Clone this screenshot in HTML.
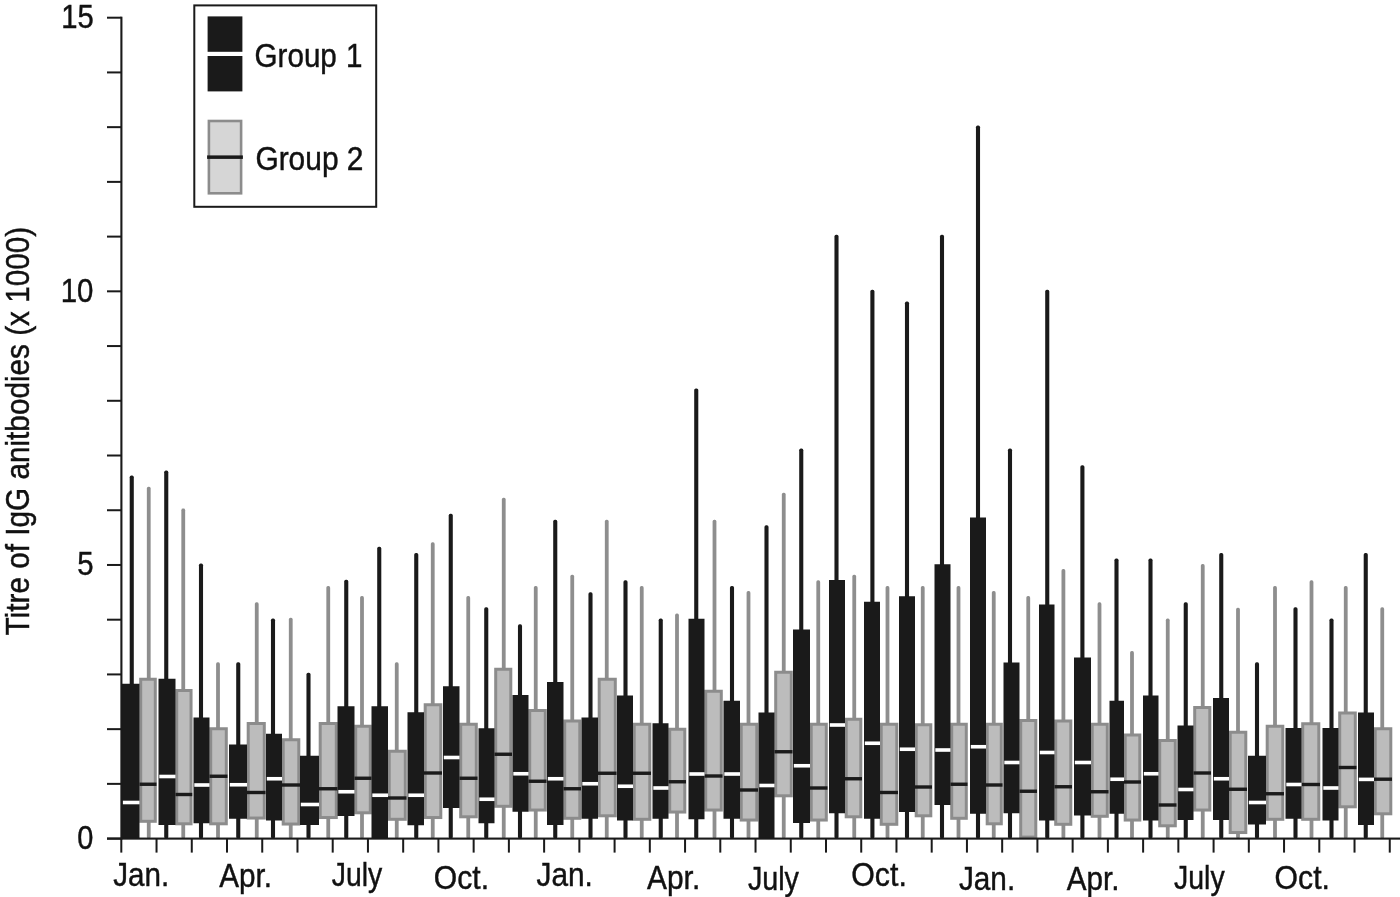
<!DOCTYPE html><html><head><meta charset="utf-8"><title>Titre of IgG antibodies</title>
<style>html,body{margin:0;padding:0;background:#fff}svg{display:block}text{font-family:"Liberation Sans",Arial,Helvetica,sans-serif;font-size:33.5px;fill:#111;stroke:#111;stroke-width:0.45px}</style></head><body>
<svg width="1400" height="897" viewBox="0 0 1400 897">
<rect width="1400" height="897" fill="#fff"/>
<g id="chart">
<g id="whiskers">
<rect x="146.85" y="486.80" width="3.8" height="351.80" rx="1.6" fill="#8e8e8e"/>
<rect x="181.35" y="508.55" width="3.8" height="330.05" rx="1.6" fill="#8e8e8e"/>
<rect x="216.10" y="662.30" width="3.8" height="176.30" rx="1.6" fill="#8e8e8e"/>
<rect x="254.85" y="602.30" width="3.8" height="236.30" rx="1.6" fill="#8e8e8e"/>
<rect x="288.85" y="617.80" width="3.8" height="220.80" rx="1.6" fill="#8e8e8e"/>
<rect x="326.35" y="586.05" width="3.8" height="252.55" rx="1.6" fill="#8e8e8e"/>
<rect x="360.10" y="596.05" width="3.8" height="242.55" rx="1.6" fill="#8e8e8e"/>
<rect x="394.85" y="662.30" width="3.8" height="176.30" rx="1.6" fill="#8e8e8e"/>
<rect x="430.85" y="542.30" width="3.8" height="296.30" rx="1.6" fill="#8e8e8e"/>
<rect x="466.35" y="596.05" width="3.8" height="242.55" rx="1.6" fill="#8e8e8e"/>
<rect x="501.85" y="497.80" width="3.8" height="340.80" rx="1.6" fill="#8e8e8e"/>
<rect x="533.85" y="586.05" width="3.8" height="252.55" rx="1.6" fill="#8e8e8e"/>
<rect x="570.35" y="574.80" width="3.8" height="263.80" rx="1.6" fill="#8e8e8e"/>
<rect x="604.85" y="519.80" width="3.8" height="318.80" rx="1.6" fill="#8e8e8e"/>
<rect x="639.85" y="586.05" width="3.8" height="252.55" rx="1.6" fill="#8e8e8e"/>
<rect x="675.10" y="613.55" width="3.8" height="225.05" rx="1.6" fill="#8e8e8e"/>
<rect x="712.60" y="519.80" width="3.8" height="318.80" rx="1.6" fill="#8e8e8e"/>
<rect x="746.60" y="591.05" width="3.8" height="247.55" rx="1.6" fill="#8e8e8e"/>
<rect x="781.85" y="492.80" width="3.8" height="345.80" rx="1.6" fill="#8e8e8e"/>
<rect x="816.35" y="580.30" width="3.8" height="258.30" rx="1.6" fill="#8e8e8e"/>
<rect x="852.35" y="574.80" width="3.8" height="263.80" rx="1.6" fill="#8e8e8e"/>
<rect x="885.60" y="586.05" width="3.8" height="252.55" rx="1.6" fill="#8e8e8e"/>
<rect x="920.85" y="586.05" width="3.8" height="252.55" rx="1.6" fill="#8e8e8e"/>
<rect x="956.60" y="586.05" width="3.8" height="252.55" rx="1.6" fill="#8e8e8e"/>
<rect x="991.85" y="591.05" width="3.8" height="247.55" rx="1.6" fill="#8e8e8e"/>
<rect x="1026.35" y="596.05" width="3.8" height="242.55" rx="1.6" fill="#8e8e8e"/>
<rect x="1061.50" y="569.05" width="3.8" height="269.55" rx="1.6" fill="#8e8e8e"/>
<rect x="1097.60" y="602.30" width="3.8" height="236.30" rx="1.6" fill="#8e8e8e"/>
<rect x="1130.10" y="651.05" width="3.8" height="187.55" rx="1.6" fill="#8e8e8e"/>
<rect x="1165.85" y="618.55" width="3.8" height="220.05" rx="1.6" fill="#8e8e8e"/>
<rect x="1200.85" y="564.05" width="3.8" height="274.55" rx="1.6" fill="#8e8e8e"/>
<rect x="1236.10" y="607.80" width="3.8" height="230.80" rx="1.6" fill="#8e8e8e"/>
<rect x="1273.10" y="586.05" width="3.8" height="252.55" rx="1.6" fill="#8e8e8e"/>
<rect x="1309.60" y="580.30" width="3.8" height="258.30" rx="1.6" fill="#8e8e8e"/>
<rect x="1343.85" y="586.05" width="3.8" height="252.55" rx="1.6" fill="#8e8e8e"/>
<rect x="1380.35" y="607.30" width="3.8" height="231.30" rx="1.6" fill="#8e8e8e"/>
<rect x="129.70" y="475.55" width="4.1" height="363.05" rx="1.7" fill="#1a1a1a"/>
<rect x="164.20" y="470.55" width="4.1" height="368.05" rx="1.7" fill="#1a1a1a"/>
<rect x="198.95" y="563.55" width="4.1" height="275.05" rx="1.7" fill="#1a1a1a"/>
<rect x="236.20" y="662.30" width="4.1" height="176.30" rx="1.7" fill="#1a1a1a"/>
<rect x="270.95" y="618.55" width="4.1" height="220.05" rx="1.7" fill="#1a1a1a"/>
<rect x="306.45" y="672.80" width="4.1" height="165.80" rx="1.7" fill="#1a1a1a"/>
<rect x="344.20" y="579.80" width="4.1" height="258.80" rx="1.7" fill="#1a1a1a"/>
<rect x="377.20" y="546.80" width="4.1" height="291.80" rx="1.7" fill="#1a1a1a"/>
<rect x="414.20" y="553.05" width="4.1" height="285.55" rx="1.7" fill="#1a1a1a"/>
<rect x="448.70" y="513.80" width="4.1" height="324.80" rx="1.7" fill="#1a1a1a"/>
<rect x="484.20" y="607.30" width="4.1" height="231.30" rx="1.7" fill="#1a1a1a"/>
<rect x="517.95" y="624.30" width="4.1" height="214.30" rx="1.7" fill="#1a1a1a"/>
<rect x="553.20" y="519.80" width="4.1" height="318.80" rx="1.7" fill="#1a1a1a"/>
<rect x="588.45" y="592.30" width="4.1" height="246.30" rx="1.7" fill="#1a1a1a"/>
<rect x="623.45" y="580.30" width="4.1" height="258.30" rx="1.7" fill="#1a1a1a"/>
<rect x="658.70" y="618.55" width="4.1" height="220.05" rx="1.7" fill="#1a1a1a"/>
<rect x="694.20" y="388.40" width="4.1" height="450.20" rx="1.7" fill="#1a1a1a"/>
<rect x="729.95" y="586.05" width="4.1" height="252.55" rx="1.7" fill="#1a1a1a"/>
<rect x="764.45" y="525.30" width="4.1" height="313.30" rx="1.7" fill="#1a1a1a"/>
<rect x="799.20" y="448.55" width="4.1" height="390.05" rx="1.7" fill="#1a1a1a"/>
<rect x="834.45" y="234.80" width="4.1" height="603.80" rx="1.7" fill="#1a1a1a"/>
<rect x="870.35" y="289.80" width="4.1" height="548.80" rx="1.7" fill="#1a1a1a"/>
<rect x="904.95" y="301.60" width="4.1" height="537.00" rx="1.7" fill="#1a1a1a"/>
<rect x="939.95" y="234.80" width="4.1" height="603.80" rx="1.7" fill="#1a1a1a"/>
<rect x="975.95" y="125.50" width="4.1" height="713.10" rx="1.7" fill="#1a1a1a"/>
<rect x="1007.95" y="448.55" width="4.1" height="390.05" rx="1.7" fill="#1a1a1a"/>
<rect x="1045.20" y="289.80" width="4.1" height="548.80" rx="1.7" fill="#1a1a1a"/>
<rect x="1080.35" y="465.30" width="4.1" height="373.30" rx="1.7" fill="#1a1a1a"/>
<rect x="1114.45" y="558.55" width="4.1" height="280.05" rx="1.7" fill="#1a1a1a"/>
<rect x="1148.45" y="558.55" width="4.1" height="280.05" rx="1.7" fill="#1a1a1a"/>
<rect x="1183.70" y="602.30" width="4.1" height="236.30" rx="1.7" fill="#1a1a1a"/>
<rect x="1219.20" y="553.05" width="4.1" height="285.55" rx="1.7" fill="#1a1a1a"/>
<rect x="1254.95" y="662.30" width="4.1" height="176.30" rx="1.7" fill="#1a1a1a"/>
<rect x="1293.45" y="607.30" width="4.1" height="231.30" rx="1.7" fill="#1a1a1a"/>
<rect x="1329.45" y="618.55" width="4.1" height="220.05" rx="1.7" fill="#1a1a1a"/>
<rect x="1363.70" y="553.05" width="4.1" height="285.55" rx="1.7" fill="#1a1a1a"/>
</g><g id="boxes">
<rect x="140.70" y="679.25" width="14.60" height="142.05" fill="#bcbcbc" stroke="#8c8c8c" stroke-width="3"/>
<rect x="139.50" y="782.55" width="17.00" height="3.4" fill="#1a1a1a"/>
<rect x="176.70" y="690.50" width="14.35" height="133.30" fill="#bcbcbc" stroke="#8c8c8c" stroke-width="3"/>
<rect x="175.50" y="792.80" width="16.75" height="3.4" fill="#1a1a1a"/>
<rect x="210.70" y="728.75" width="15.60" height="95.05" fill="#bcbcbc" stroke="#8c8c8c" stroke-width="3"/>
<rect x="209.50" y="774.55" width="18.00" height="3.4" fill="#1a1a1a"/>
<rect x="248.20" y="723.50" width="16.10" height="94.55" fill="#bcbcbc" stroke="#8c8c8c" stroke-width="3"/>
<rect x="247.00" y="790.80" width="18.50" height="3.4" fill="#1a1a1a"/>
<rect x="283.20" y="739.75" width="15.60" height="84.30" fill="#bcbcbc" stroke="#8c8c8c" stroke-width="3"/>
<rect x="282.00" y="783.30" width="18.00" height="3.4" fill="#1a1a1a"/>
<rect x="320.20" y="723.50" width="16.10" height="94.05" fill="#bcbcbc" stroke="#8c8c8c" stroke-width="3"/>
<rect x="319.00" y="787.05" width="18.50" height="3.4" fill="#1a1a1a"/>
<rect x="355.70" y="726.25" width="14.60" height="86.55" fill="#bcbcbc" stroke="#8c8c8c" stroke-width="3"/>
<rect x="354.50" y="776.55" width="17.00" height="3.4" fill="#1a1a1a"/>
<rect x="389.20" y="751.25" width="16.10" height="68.05" fill="#bcbcbc" stroke="#8c8c8c" stroke-width="3"/>
<rect x="388.00" y="796.30" width="18.50" height="3.4" fill="#1a1a1a"/>
<rect x="425.20" y="704.75" width="15.60" height="112.80" fill="#bcbcbc" stroke="#8c8c8c" stroke-width="3"/>
<rect x="424.00" y="771.30" width="18.00" height="3.4" fill="#1a1a1a"/>
<rect x="460.70" y="724.25" width="15.60" height="92.55" fill="#bcbcbc" stroke="#8c8c8c" stroke-width="3"/>
<rect x="459.50" y="776.55" width="18.00" height="3.4" fill="#1a1a1a"/>
<rect x="495.70" y="669.25" width="15.10" height="137.05" fill="#bcbcbc" stroke="#8c8c8c" stroke-width="3"/>
<rect x="494.50" y="752.55" width="17.50" height="3.4" fill="#1a1a1a"/>
<rect x="529.70" y="710.50" width="15.60" height="99.55" fill="#bcbcbc" stroke="#8c8c8c" stroke-width="3"/>
<rect x="528.50" y="779.55" width="18.00" height="3.4" fill="#1a1a1a"/>
<rect x="564.70" y="721.00" width="15.10" height="97.30" fill="#bcbcbc" stroke="#8c8c8c" stroke-width="3"/>
<rect x="563.50" y="787.05" width="17.50" height="3.4" fill="#1a1a1a"/>
<rect x="599.20" y="679.25" width="16.10" height="136.55" fill="#bcbcbc" stroke="#8c8c8c" stroke-width="3"/>
<rect x="598.00" y="771.55" width="18.50" height="3.4" fill="#1a1a1a"/>
<rect x="634.20" y="724.25" width="15.60" height="95.05" fill="#bcbcbc" stroke="#8c8c8c" stroke-width="3"/>
<rect x="633.00" y="771.55" width="18.00" height="3.4" fill="#1a1a1a"/>
<rect x="669.70" y="729.25" width="15.10" height="82.80" fill="#bcbcbc" stroke="#8c8c8c" stroke-width="3"/>
<rect x="668.50" y="780.05" width="17.50" height="3.4" fill="#1a1a1a"/>
<rect x="705.70" y="691.25" width="15.60" height="118.80" fill="#bcbcbc" stroke="#8c8c8c" stroke-width="3"/>
<rect x="704.50" y="774.30" width="18.00" height="3.4" fill="#1a1a1a"/>
<rect x="741.20" y="724.25" width="15.60" height="95.80" fill="#bcbcbc" stroke="#8c8c8c" stroke-width="3"/>
<rect x="740.00" y="788.30" width="18.00" height="3.4" fill="#1a1a1a"/>
<rect x="775.70" y="672.25" width="15.60" height="123.55" fill="#bcbcbc" stroke="#8c8c8c" stroke-width="3"/>
<rect x="774.50" y="750.05" width="18.00" height="3.4" fill="#1a1a1a"/>
<rect x="811.20" y="724.25" width="15.10" height="95.80" fill="#bcbcbc" stroke="#8c8c8c" stroke-width="3"/>
<rect x="810.00" y="786.30" width="17.50" height="3.4" fill="#1a1a1a"/>
<rect x="846.20" y="719.25" width="14.60" height="97.55" fill="#bcbcbc" stroke="#8c8c8c" stroke-width="3"/>
<rect x="845.00" y="777.05" width="17.00" height="3.4" fill="#1a1a1a"/>
<rect x="881.20" y="724.25" width="15.60" height="100.05" fill="#bcbcbc" stroke="#8c8c8c" stroke-width="3"/>
<rect x="880.00" y="790.80" width="18.00" height="3.4" fill="#1a1a1a"/>
<rect x="916.20" y="724.75" width="14.60" height="91.05" fill="#bcbcbc" stroke="#8c8c8c" stroke-width="3"/>
<rect x="915.00" y="785.30" width="17.00" height="3.4" fill="#1a1a1a"/>
<rect x="951.70" y="724.25" width="14.60" height="94.05" fill="#bcbcbc" stroke="#8c8c8c" stroke-width="3"/>
<rect x="950.50" y="782.55" width="17.00" height="3.4" fill="#1a1a1a"/>
<rect x="987.20" y="724.25" width="14.10" height="99.55" fill="#bcbcbc" stroke="#8c8c8c" stroke-width="3"/>
<rect x="986.00" y="783.30" width="16.50" height="3.4" fill="#1a1a1a"/>
<rect x="1020.70" y="720.50" width="15.10" height="116.60" fill="#bcbcbc" stroke="#8c8c8c" stroke-width="3"/>
<rect x="1019.50" y="789.55" width="17.50" height="3.4" fill="#1a1a1a"/>
<rect x="1055.70" y="721.00" width="15.10" height="103.30" fill="#bcbcbc" stroke="#8c8c8c" stroke-width="3"/>
<rect x="1054.50" y="785.05" width="17.50" height="3.4" fill="#1a1a1a"/>
<rect x="1092.20" y="724.25" width="15.10" height="92.05" fill="#bcbcbc" stroke="#8c8c8c" stroke-width="3"/>
<rect x="1091.00" y="790.05" width="17.50" height="3.4" fill="#1a1a1a"/>
<rect x="1125.20" y="735.00" width="14.60" height="85.05" fill="#bcbcbc" stroke="#8c8c8c" stroke-width="3"/>
<rect x="1124.00" y="780.30" width="17.00" height="3.4" fill="#1a1a1a"/>
<rect x="1159.70" y="740.50" width="15.60" height="85.30" fill="#bcbcbc" stroke="#8c8c8c" stroke-width="3"/>
<rect x="1158.50" y="803.30" width="18.00" height="3.4" fill="#1a1a1a"/>
<rect x="1194.70" y="707.50" width="15.10" height="102.55" fill="#bcbcbc" stroke="#8c8c8c" stroke-width="3"/>
<rect x="1193.50" y="771.30" width="17.50" height="3.4" fill="#1a1a1a"/>
<rect x="1230.20" y="732.25" width="15.60" height="100.30" fill="#bcbcbc" stroke="#8c8c8c" stroke-width="3"/>
<rect x="1229.00" y="787.55" width="18.00" height="3.4" fill="#1a1a1a"/>
<rect x="1267.20" y="726.25" width="15.60" height="93.05" fill="#bcbcbc" stroke="#8c8c8c" stroke-width="3"/>
<rect x="1266.00" y="792.05" width="18.00" height="3.4" fill="#1a1a1a"/>
<rect x="1302.70" y="723.75" width="16.10" height="95.55" fill="#bcbcbc" stroke="#8c8c8c" stroke-width="3"/>
<rect x="1301.50" y="782.80" width="18.50" height="3.4" fill="#1a1a1a"/>
<rect x="1339.70" y="713.00" width="15.60" height="93.80" fill="#bcbcbc" stroke="#8c8c8c" stroke-width="3"/>
<rect x="1338.50" y="765.80" width="18.00" height="3.4" fill="#1a1a1a"/>
<rect x="1375.20" y="728.75" width="15.60" height="85.05" fill="#bcbcbc" stroke="#8c8c8c" stroke-width="3"/>
<rect x="1374.00" y="777.50" width="18.00" height="3.4" fill="#1a1a1a"/>
<rect x="122.00" y="683.75" width="17.50" height="154.85" fill="#1a1a1a"/>
<rect x="122.80" y="800.70" width="16.70" height="3.6" fill="#fff"/>
<rect x="158.50" y="678.75" width="17.00" height="146.25" fill="#1a1a1a"/>
<rect x="159.30" y="774.70" width="16.20" height="3.6" fill="#fff"/>
<rect x="193.50" y="717.50" width="16.00" height="105.75" fill="#1a1a1a"/>
<rect x="194.30" y="783.20" width="15.20" height="3.6" fill="#fff"/>
<rect x="229.00" y="744.50" width="18.00" height="74.25" fill="#1a1a1a"/>
<rect x="229.80" y="782.95" width="17.20" height="3.6" fill="#fff"/>
<rect x="266.00" y="733.75" width="16.00" height="86.75" fill="#1a1a1a"/>
<rect x="266.80" y="776.95" width="15.20" height="3.6" fill="#fff"/>
<rect x="300.00" y="755.75" width="19.00" height="69.25" fill="#1a1a1a"/>
<rect x="300.80" y="802.70" width="18.20" height="3.6" fill="#fff"/>
<rect x="337.50" y="706.25" width="17.00" height="109.75" fill="#1a1a1a"/>
<rect x="338.30" y="789.95" width="16.20" height="3.6" fill="#fff"/>
<rect x="371.50" y="706.25" width="16.50" height="132.35" fill="#1a1a1a"/>
<rect x="372.30" y="793.45" width="15.70" height="3.6" fill="#fff"/>
<rect x="407.50" y="712.25" width="16.50" height="113.00" fill="#1a1a1a"/>
<rect x="408.30" y="793.45" width="15.70" height="3.6" fill="#fff"/>
<rect x="443.00" y="686.25" width="16.50" height="121.75" fill="#1a1a1a"/>
<rect x="443.80" y="755.70" width="15.70" height="3.6" fill="#fff"/>
<rect x="478.50" y="728.25" width="16.00" height="95.00" fill="#1a1a1a"/>
<rect x="479.30" y="797.45" width="15.20" height="3.6" fill="#fff"/>
<rect x="512.50" y="695.00" width="16.00" height="116.75" fill="#1a1a1a"/>
<rect x="513.30" y="771.95" width="15.20" height="3.6" fill="#fff"/>
<rect x="547.00" y="682.00" width="16.50" height="143.00" fill="#1a1a1a"/>
<rect x="547.80" y="776.95" width="15.70" height="3.6" fill="#fff"/>
<rect x="581.50" y="717.50" width="16.50" height="101.25" fill="#1a1a1a"/>
<rect x="582.30" y="781.95" width="15.70" height="3.6" fill="#fff"/>
<rect x="617.00" y="695.50" width="16.00" height="125.00" fill="#1a1a1a"/>
<rect x="617.80" y="784.45" width="15.20" height="3.6" fill="#fff"/>
<rect x="652.50" y="723.25" width="16.00" height="95.50" fill="#1a1a1a"/>
<rect x="653.30" y="786.20" width="15.20" height="3.6" fill="#fff"/>
<rect x="688.50" y="618.75" width="16.00" height="200.50" fill="#1a1a1a"/>
<rect x="689.30" y="772.20" width="15.20" height="3.6" fill="#fff"/>
<rect x="723.50" y="700.75" width="16.50" height="118.00" fill="#1a1a1a"/>
<rect x="724.30" y="772.20" width="15.70" height="3.6" fill="#fff"/>
<rect x="758.50" y="712.50" width="16.00" height="126.10" fill="#1a1a1a"/>
<rect x="759.30" y="783.70" width="15.20" height="3.6" fill="#fff"/>
<rect x="793.00" y="629.50" width="17.00" height="193.50" fill="#1a1a1a"/>
<rect x="793.80" y="763.95" width="16.20" height="3.6" fill="#fff"/>
<rect x="829.00" y="580.00" width="16.00" height="233.25" fill="#1a1a1a"/>
<rect x="829.80" y="723.20" width="15.20" height="3.6" fill="#fff"/>
<rect x="864.00" y="601.75" width="16.00" height="217.00" fill="#1a1a1a"/>
<rect x="864.80" y="741.45" width="15.20" height="3.6" fill="#fff"/>
<rect x="899.00" y="596.25" width="16.00" height="215.75" fill="#1a1a1a"/>
<rect x="899.80" y="747.45" width="15.20" height="3.6" fill="#fff"/>
<rect x="934.50" y="564.25" width="16.00" height="240.75" fill="#1a1a1a"/>
<rect x="935.30" y="748.20" width="15.20" height="3.6" fill="#fff"/>
<rect x="970.00" y="517.50" width="16.00" height="296.25" fill="#1a1a1a"/>
<rect x="970.80" y="744.95" width="15.20" height="3.6" fill="#fff"/>
<rect x="1003.50" y="662.50" width="16.00" height="150.75" fill="#1a1a1a"/>
<rect x="1004.30" y="760.70" width="15.20" height="3.6" fill="#fff"/>
<rect x="1039.00" y="604.50" width="15.50" height="216.00" fill="#1a1a1a"/>
<rect x="1039.80" y="750.70" width="14.70" height="3.6" fill="#fff"/>
<rect x="1074.00" y="657.50" width="17.00" height="158.00" fill="#1a1a1a"/>
<rect x="1074.80" y="760.70" width="16.20" height="3.6" fill="#fff"/>
<rect x="1109.50" y="700.75" width="14.50" height="113.00" fill="#1a1a1a"/>
<rect x="1110.30" y="777.45" width="13.70" height="3.6" fill="#fff"/>
<rect x="1143.00" y="695.50" width="15.50" height="125.00" fill="#1a1a1a"/>
<rect x="1143.80" y="771.95" width="14.70" height="3.6" fill="#fff"/>
<rect x="1177.50" y="725.50" width="16.00" height="94.50" fill="#1a1a1a"/>
<rect x="1178.30" y="787.70" width="15.20" height="3.6" fill="#fff"/>
<rect x="1213.00" y="698.00" width="16.00" height="122.00" fill="#1a1a1a"/>
<rect x="1213.80" y="776.95" width="15.20" height="3.6" fill="#fff"/>
<rect x="1248.00" y="755.75" width="18.00" height="68.75" fill="#1a1a1a"/>
<rect x="1248.80" y="800.70" width="17.20" height="3.6" fill="#fff"/>
<rect x="1285.50" y="728.00" width="16.00" height="90.75" fill="#1a1a1a"/>
<rect x="1286.30" y="782.70" width="15.20" height="3.6" fill="#fff"/>
<rect x="1322.50" y="728.00" width="16.00" height="92.50" fill="#1a1a1a"/>
<rect x="1323.30" y="786.20" width="15.20" height="3.6" fill="#fff"/>
<rect x="1358.00" y="712.50" width="16.00" height="112.50" fill="#1a1a1a"/>
<rect x="1358.80" y="777.60" width="15.20" height="3.6" fill="#fff"/>
</g>
<g id="axes" fill="#1a1a1a">
<rect x="120.35" y="16.70" width="2.1" height="822.90"/>
<rect x="107" y="837.55" width="1303" height="2.1"/>
<rect x="107" y="837.60" width="14.4" height="2"/>
<rect x="107" y="782.87" width="14.4" height="2"/>
<rect x="107" y="728.15" width="14.4" height="2"/>
<rect x="107" y="673.42" width="14.4" height="2"/>
<rect x="107" y="618.69" width="14.4" height="2"/>
<rect x="107" y="563.97" width="14.4" height="2"/>
<rect x="107" y="509.24" width="14.4" height="2"/>
<rect x="107" y="454.51" width="14.4" height="2"/>
<rect x="107" y="399.79" width="14.4" height="2"/>
<rect x="107" y="345.06" width="14.4" height="2"/>
<rect x="107" y="290.33" width="14.4" height="2"/>
<rect x="107" y="235.61" width="14.4" height="2"/>
<rect x="107" y="180.88" width="14.4" height="2"/>
<rect x="107" y="126.15" width="14.4" height="2"/>
<rect x="107" y="71.43" width="14.4" height="2"/>
<rect x="107" y="16.70" width="14.4" height="2"/>
<rect x="120.30" y="838.60" width="2" height="14"/>
<rect x="155.53" y="838.60" width="2" height="14"/>
<rect x="190.77" y="838.60" width="2" height="14"/>
<rect x="226.00" y="838.60" width="2" height="14"/>
<rect x="261.24" y="838.60" width="2" height="14"/>
<rect x="296.48" y="838.60" width="2" height="14"/>
<rect x="331.71" y="838.60" width="2" height="14"/>
<rect x="366.94" y="838.60" width="2" height="14"/>
<rect x="402.18" y="838.60" width="2" height="14"/>
<rect x="437.42" y="838.60" width="2" height="14"/>
<rect x="472.65" y="838.60" width="2" height="14"/>
<rect x="507.88" y="838.60" width="2" height="14"/>
<rect x="543.12" y="838.60" width="2" height="14"/>
<rect x="578.36" y="838.60" width="2" height="14"/>
<rect x="613.59" y="838.60" width="2" height="14"/>
<rect x="648.82" y="838.60" width="2" height="14"/>
<rect x="684.06" y="838.60" width="2" height="14"/>
<rect x="719.29" y="838.60" width="2" height="14"/>
<rect x="754.53" y="838.60" width="2" height="14"/>
<rect x="789.76" y="838.60" width="2" height="14"/>
<rect x="825.00" y="838.60" width="2" height="14"/>
<rect x="860.23" y="838.60" width="2" height="14"/>
<rect x="895.47" y="838.60" width="2" height="14"/>
<rect x="930.70" y="838.60" width="2" height="14"/>
<rect x="965.94" y="838.60" width="2" height="14"/>
<rect x="1001.17" y="838.60" width="2" height="14"/>
<rect x="1036.41" y="838.60" width="2" height="14"/>
<rect x="1071.64" y="838.60" width="2" height="14"/>
<rect x="1106.88" y="838.60" width="2" height="14"/>
<rect x="1142.12" y="838.60" width="2" height="14"/>
<rect x="1177.35" y="838.60" width="2" height="14"/>
<rect x="1212.59" y="838.60" width="2" height="14"/>
<rect x="1247.82" y="838.60" width="2" height="14"/>
<rect x="1283.05" y="838.60" width="2" height="14"/>
<rect x="1318.29" y="838.60" width="2" height="14"/>
<rect x="1353.52" y="838.60" width="2" height="14"/>
<rect x="1388.76" y="838.60" width="2" height="14"/>
</g>
<g id="ylabels">
<text transform="translate(61.15,28.20) scale(0.8724,1)" >15</text>
<text transform="translate(60.74,301.83) scale(0.8783,1)" >10</text>
<text transform="translate(77.23,575.47) scale(0.8769,1)" >5</text>
<text transform="translate(77.13,849.10) scale(0.8651,1)" >0</text>
</g>
<g id="xlabels">
<text transform="translate(113.20,886.30) scale(0.8845,1)" >Jan.</text>
<text transform="translate(219.30,886.50) scale(0.8862,1)" >Apr.</text>
<text transform="translate(331.82,886.10) scale(0.8476,1)" >July</text>
<text transform="translate(433.79,888.90) scale(0.8994,1)" >Oct.</text>
<text transform="translate(536.50,886.10) scale(0.8912,1)" >Jan.</text>
<text transform="translate(647.10,888.90) scale(0.8915,1)" >Apr.</text>
<text transform="translate(747.91,889.60) scale(0.8577,1)" >July</text>
<text transform="translate(851.29,886.40) scale(0.9046,1)" >Oct.</text>
<text transform="translate(958.90,889.60) scale(0.8895,1)" >Jan.</text>
<text transform="translate(1066.80,889.60) scale(0.8844,1)" >Apr.</text>
<text transform="translate(1174.01,889.30) scale(0.8509,1)" >July</text>
<text transform="translate(1274.59,888.90) scale(0.9011,1)" >Oct.</text>
</g>
<text transform="translate(28.7,635.39) rotate(-90) scale(0.8880,1)">Titre of IgG anitbodies (x 1000)</text>
<g id="legend">
<rect x="194.3" y="5.4" width="181.9" height="201.4" fill="#fff" stroke="#1a1a1a" stroke-width="2"/>
<rect x="207.6" y="16.4" width="34.8" height="75" fill="#1a1a1a"/>
<rect x="207" y="51.8" width="36" height="4.2" fill="#fff"/>
<rect x="208.9" y="121" width="32.2" height="72.3" fill="#d6d6d6" stroke="#8c8c8c" stroke-width="2.6"/>
<rect x="207.1" y="155.4" width="35.8" height="3.5" fill="#1a1a1a"/>
<text transform="translate(254.52,66.9) scale(0.8845,1)">Group <tspan dx="1">1</tspan></text>
<text transform="translate(255.40,170.00) scale(0.8929,1)" >Group 2</text>
</g>
</g></svg></body></html>
